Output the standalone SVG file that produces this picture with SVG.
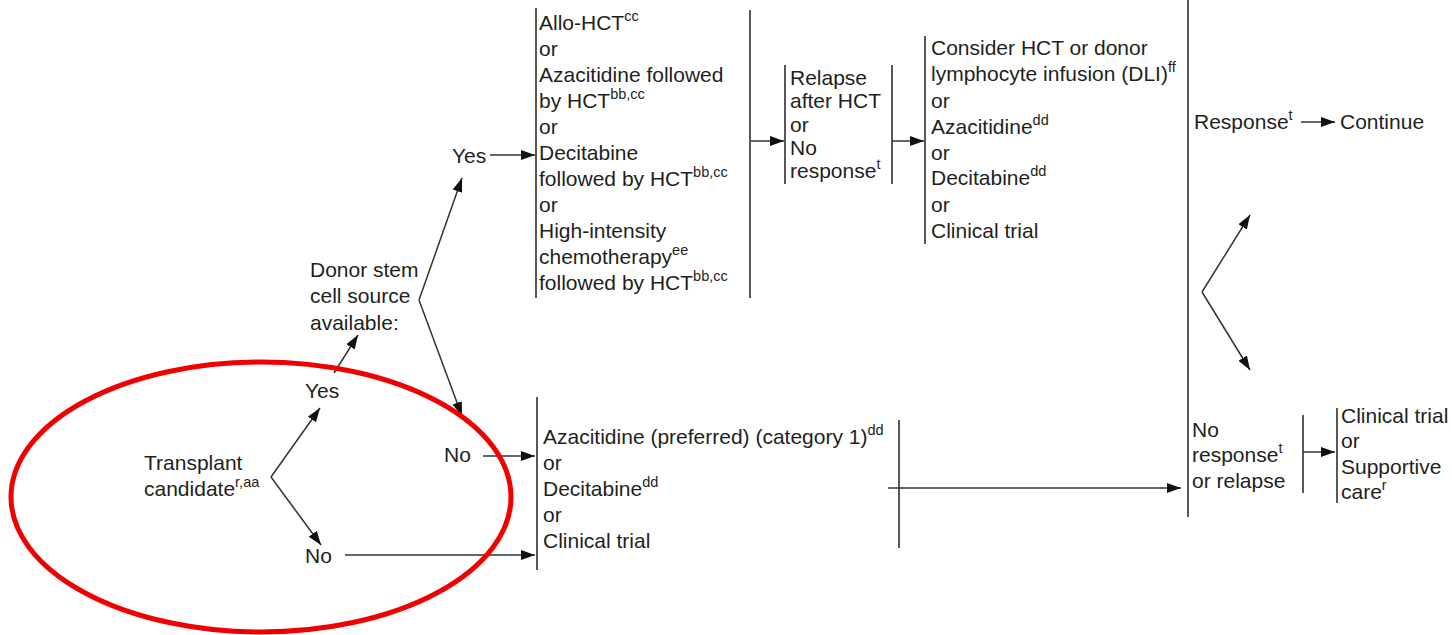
<svg xmlns="http://www.w3.org/2000/svg" width="1452" height="635" viewBox="0 0 1452 635">
  <style>
    text { font-family: "Liberation Sans", Arial, sans-serif; font-size: 21px; fill: #231f20; }
    .sup { font-size: 14.5px; }
    .bar { stroke: #3a3a3a; stroke-width: 1.7; fill: none; }
    .link { stroke: #333; stroke-width: 1.5; fill: none; }
    .arr { marker-end: url(#head); }
  </style>
  <defs>
    <marker id="head" markerUnits="userSpaceOnUse" markerWidth="16" markerHeight="12" refX="14" refY="5.5" orient="auto">
      <path d="M0,0.5 L14,5.5 L0,10.5 z" fill="#111"/>
    </marker>
  </defs>
  <rect width="1452" height="635" fill="#fff"/>

  <!-- connectors -->
  <g id="connectors">
    <!-- Transplant candidate split -->
    <path class="link arr" d="M271,477 L320,408"/>
    <path class="link arr" d="M271,477 L321,545"/>
    <!-- Yes -> donor question -->
    <path class="link arr" d="M334,373 L358,335"/>
    <!-- donor question split -->
    <path class="link arr" d="M419,300 L462,178"/>
    <path class="link arr" d="M419,300 L462,416"/>
    <!-- into treatment boxes -->
    <path class="link arr" d="M490,155 L535,155"/>
    <path class="link arr" d="M483,456 L535,456"/>
    <path class="link arr" d="M345,555 L535,555"/>
    <!-- top chain -->
    <path class="link arr" d="M751,141 L784,141"/>
    <path class="link arr" d="M892,141 L924,141"/>
    <!-- lower box to outcome -->
    <path class="link arr" d="M888,488 L1181,488"/>
    <!-- outcome split -->
    <path class="link arr" d="M1202,292 L1250,215"/>
    <path class="link arr" d="M1202,292 L1250,370"/>
    <!-- response -> continue -->
    <path class="link arr" d="M1301,122 L1335,122"/>
    <!-- no response -> options -->
    <path class="link arr" d="M1303,452 L1335,452"/>
  </g>

  <g id="transplant">
    <text x="144" y="470">Transplant</text>
    <text x="144" y="496">candidate<tspan class="sup" dy="-9">r,aa</tspan></text>
  </g>
  <g id="yes1"><text x="305" y="398">Yes</text></g>
  <g id="no1"><text x="305" y="563">No</text></g>

  <g id="donor">
    <text x="310" y="277">Donor stem</text>
    <text x="310" y="303">cell source</text>
    <text x="310" y="330">available:</text>
  </g>
  <g id="yes2"><text x="452" y="163">Yes</text></g>
  <g id="no2"><text x="444" y="462">No</text></g>

  <g id="hct-box">
    <line class="bar" x1="536" y1="8" x2="536" y2="298"/>
    <line class="bar" x1="750" y1="10" x2="750" y2="298"/>
    <text x="539" y="30">Allo-HCT<tspan class="sup" dy="-9">cc</tspan></text>
    <text x="539" y="56">or</text>
    <text x="539" y="82">Azacitidine followed</text>
    <text x="539" y="108">by HCT<tspan class="sup" dy="-9">bb,cc</tspan></text>
    <text x="539" y="134">or</text>
    <text x="539" y="160">Decitabine</text>
    <text x="539" y="186">followed by HCT<tspan class="sup" dy="-9">bb,cc</tspan></text>
    <text x="539" y="212">or</text>
    <text x="539" y="238">High-intensity</text>
    <text x="539" y="264">chemotherapy<tspan class="sup" dy="-9">ee</tspan></text>
    <text x="539" y="290">followed by HCT<tspan class="sup" dy="-9">bb,cc</tspan></text>
  </g>

  <g id="relapse-box">
    <line class="bar" x1="785" y1="65" x2="785" y2="184"/>
    <line class="bar" x1="892" y1="65" x2="892" y2="184"/>
    <text x="790" y="85">Relapse</text>
    <text x="790" y="108">after HCT</text>
    <text x="790" y="132">or</text>
    <text x="790" y="155">No</text>
    <text x="790" y="178">response<tspan class="sup" dy="-9">t</tspan></text>
  </g>

  <g id="salvage-box">
    <line class="bar" x1="925" y1="36" x2="925" y2="244"/>
    <text x="931" y="55">Consider HCT or donor</text>
    <text x="931" y="81">lymphocyte infusion (DLI)<tspan class="sup" dy="-9">ff</tspan></text>
    <text x="931" y="108">or</text>
    <text x="931" y="134">Azacitidine<tspan class="sup" dy="-9">dd</tspan></text>
    <text x="931" y="160">or</text>
    <text x="931" y="185">Decitabine<tspan class="sup" dy="-9">dd</tspan></text>
    <text x="931" y="212">or</text>
    <text x="931" y="238">Clinical trial</text>
  </g>

  <g id="hma-box">
    <line class="bar" x1="537" y1="397" x2="537" y2="570"/>
    <line class="bar" x1="899" y1="420" x2="899" y2="548"/>
    <text x="543" y="444">Azacitidine (preferred) (category 1)<tspan class="sup" dy="-9">dd</tspan></text>
    <text x="543" y="470">or</text>
    <text x="543" y="496">Decitabine<tspan class="sup" dy="-9">dd</tspan></text>
    <text x="543" y="522">or</text>
    <text x="543" y="548">Clinical trial</text>
  </g>

  <g id="outcome">
    <line class="bar" x1="1188" y1="0" x2="1188" y2="517"/>
  </g>
  <g id="response"><text x="1194" y="129">Response<tspan class="sup" dy="-9">t</tspan></text></g>
  <g id="continue"><text x="1340" y="129">Continue</text></g>

  <g id="no-response">
    <line class="bar" x1="1303" y1="415" x2="1303" y2="493"/>
    <text x="1192" y="437">No</text>
    <text x="1192" y="462">response<tspan class="sup" dy="-9">t</tspan></text>
    <text x="1192" y="488">or relapse</text>
  </g>

  <g id="final-options">
    <line class="bar" x1="1337" y1="408" x2="1337" y2="503"/>
    <text x="1341" y="423">Clinical trial</text>
    <text x="1341" y="448">or</text>
    <text x="1341" y="474">Supportive</text>
    <text x="1341" y="499">care<tspan class="sup" dy="-9">r</tspan></text>
  </g>

  <!-- highlight ring around the entry decision -->
  <g id="highlight">
    <ellipse cx="261" cy="497" rx="250" ry="135" fill="none" stroke="#f00000" stroke-width="5"/>
  </g>
</svg>
